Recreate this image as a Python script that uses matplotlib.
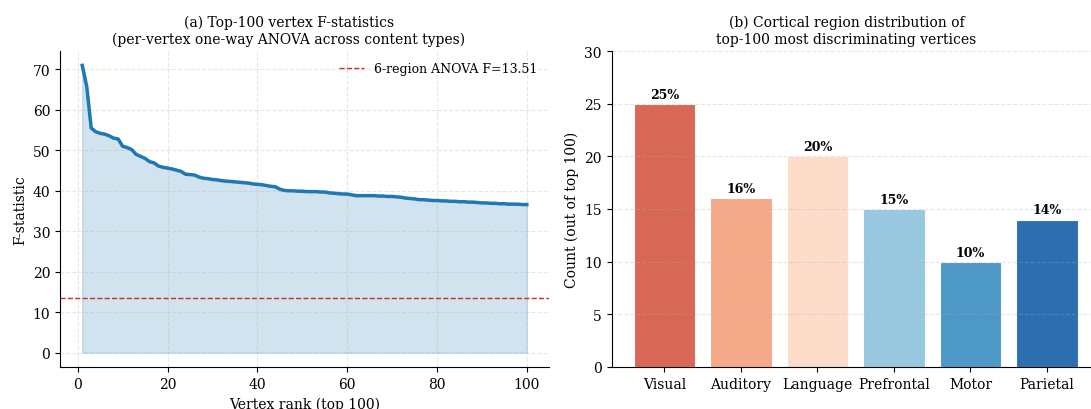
import numpy as np
import matplotlib
matplotlib.use('Agg')
import matplotlib.pyplot as plt

plt.rcParams['font.family'] = 'DejaVu Serif'
plt.rcParams['font.size'] = 10

# F-statistics of the top-100 vertices (rank 1..100)
f_stats = [71.0, 65.8, 55.5, 54.6, 54.2, 54.0, 53.6, 53.0, 52.8, 51.0,
           50.7, 50.2, 49.0, 48.5, 48.0, 47.2, 46.9, 46.1, 45.8, 45.6,
           45.4, 45.1, 44.8, 44.1, 44.0, 43.9, 43.4, 43.1, 43.0, 42.8,
           42.7, 42.5, 42.4, 42.3, 42.2, 42.1, 42.0, 41.9, 41.7, 41.6,
           41.5, 41.3, 41.1, 41.0, 40.4, 40.1, 40.0, 40.0, 39.9, 39.9,
           39.8, 39.8, 39.8, 39.7, 39.7, 39.5, 39.4, 39.3, 39.2, 39.2,
           39.0, 38.8, 38.8, 38.8, 38.8, 38.8, 38.7, 38.7, 38.6, 38.6,
           38.5, 38.4, 38.2, 38.1, 38.0, 37.8, 37.8, 37.7, 37.6, 37.6,
           37.5, 37.5, 37.4, 37.4, 37.3, 37.3, 37.2, 37.2, 37.1, 37.0,
           37.0, 36.9, 36.9, 36.8, 36.8, 36.7, 36.7, 36.7, 36.6, 36.6]
ranks = np.arange(1, len(f_stats) + 1)
region_anova_f = 13.51

# region distribution
regions = ['Visual', 'Auditory', 'Language', 'Prefrontal', 'Motor', 'Parietal']
counts = [25, 16, 20, 15, 10, 14]
bar_colors = ['#d6604d', '#f4a582', '#fddbc7', '#92c5de', '#4393c3', '#2166ac']

fig = plt.figure(figsize=(10.91, 4.10), dpi=100)
W, H = 1091, 410
ax1 = fig.add_axes([60 / W, 42 / H, 489 / W, 316 / H])
ax2 = fig.add_axes([611.7 / W, 42 / H, 488 / W, 316 / H])

# (a) F statistics
ax1.plot(ranks, f_stats, color='#1f77b4', linewidth=2.5)
ax1.fill_between(ranks, f_stats, alpha=0.2, color='#1f77b4')
ax1.axhline(region_anova_f, color='#d62728', linestyle='--', linewidth=1.0,
            label=f'6-region ANOVA F={region_anova_f}')
ax1.set_xlabel('Vertex rank (top 100)')
ax1.set_ylabel('F-statistic')
ax1.set_title('(a) Top-100 vertex F-statistics\n(per-vertex one-way ANOVA across content types)',
              fontsize=10, x=0.468)
ax1.legend(loc='upper right', frameon=False, fontsize=9)
ax1.grid(True, linestyle='--', alpha=0.3)
ax1.spines['top'].set_visible(False)
ax1.spines['right'].set_visible(False)

# (b) region counts
x = np.arange(len(regions))
ax2.bar(x, counts, color=bar_colors, alpha=0.95, edgecolor='white', linewidth=0.8)
for xi, c in zip(x, counts):
    ax2.text(xi, c + 0.3, f'{c}%', ha='center', va='bottom',
             fontsize=9, fontweight='bold')
ax2.set_xticks(x)
ax2.set_xticklabels(regions)
ax2.set_ylim(0, 30)
ax2.set_ylabel('Count (out of top 100)')
ax2.set_title('(b) Cortical region distribution of\ntop-100 most discriminating vertices',
              fontsize=10, x=0.481)
ax2.grid(True, axis='y', linestyle='--', alpha=0.3)
ax2.spines['top'].set_visible(False)
ax2.spines['right'].set_visible(False)

fig.savefig('out.png', dpi=100)
